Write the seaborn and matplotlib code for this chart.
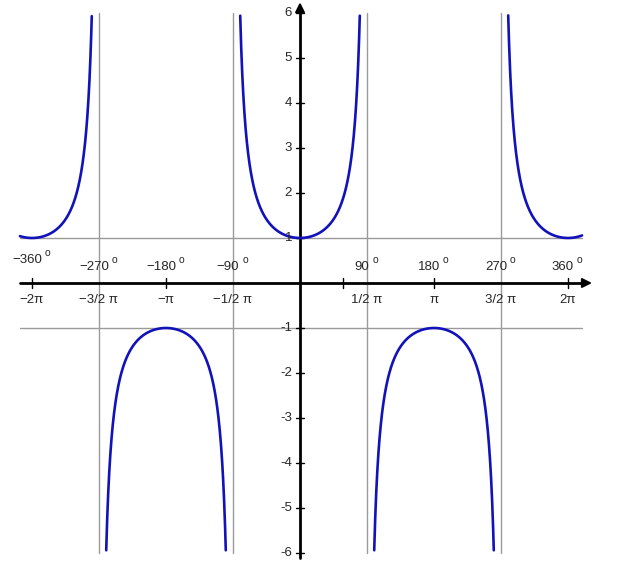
import numpy as np
import pandas as pd
import matplotlib
matplotlib.use("Agg")
import matplotlib.pyplot as plt
import seaborn as sns

# x-axis labels (radians below, degrees above)
tick_mult = [-2, -1.5, -1, -0.5, 0.5, 1, 1.5, 2]
radian_labels = ["\u22122\u03c0", "\u22123/2 \u03c0", "\u2212\u03c0", "\u22121/2 \u03c0",
                 "1/2 \u03c0", "\u03c0", "3/2 \u03c0", "2\u03c0"]
degree_labels = ["\u2212360", "\u2212270", "\u2212180", "\u221290", "90", "180", "270", "360"]
y_ticks = [-6, -5, -4, -3, -2, -1, 1, 2, 3, 4, 5, 6]
asymptotes = [-1.5, -0.5, 0.5, 1.5]   # multiples of pi
extra_tick = [1.0]                    # small tick at x = 1 rad

# curve: y = sec(x), drawn between the asymptotes and cut at |y| = 6
x_min, x_max = -2.09 * np.pi, 2.105 * np.pi
y_cap = 6
bounds = [x_min] + [a * np.pi for a in asymptotes] + [x_max]
rows = []
for i in range(len(bounds) - 1):
    xs = np.linspace(bounds[i] + 1e-4, bounds[i + 1] - 1e-4, 800)
    ys = 1 / np.cos(xs)
    keep = np.abs(ys) <= y_cap
    rows.append(pd.DataFrame({"x": xs[keep], "y": ys[keep], "seg": i}))
df = pd.concat(rows, ignore_index=True)

sns.set_theme(style="white")
plt.rcParams["font.family"] = ["Liberation Sans", "DejaVu Sans"]

W, H = 618, 566
fig = plt.figure(figsize=(W / 100, H / 100), dpi=100)
ax = fig.add_axes([0, 0, 1, 1])
px = 134 / np.pi   # pixels per unit on x
py = 45            # pixels per unit on y
ax.set_xlim(-300 / px, (W - 300) / px)
ax.set_ylim((283 - H) / py, 283 / py)
ax.axis("off")

grey = "#9a9a9a"
# helper lines
for a in asymptotes:
    ax.plot([a * np.pi, a * np.pi], [-6, 6], color=grey, lw=1, zorder=1)
for yv in [1, -1]:
    ax.plot([x_min, x_max], [yv, yv], color=grey, lw=1, zorder=1)

# axes with arrows
ax.plot([x_min, 2.13 * np.pi], [0, 0], color="black", lw=2, zorder=3)
ax.annotate("", xy=(2.2 * np.pi, 0), xytext=(2.12 * np.pi, 0),
            arrowprops=dict(arrowstyle="-|>", color="black", lw=1.5,
                            mutation_scale=14), zorder=4)
ax.plot([0, 0], [-6.1, 6.1], color="black", lw=2, zorder=3)
ax.annotate("", xy=(0, 6.3), xytext=(0, 6.0),
            arrowprops=dict(arrowstyle="-|>", color="black", lw=1.5,
                            mutation_scale=14), zorder=4)

# curve
sns.lineplot(data=df, x="x", y="y", units="seg", estimator=None,
             color="#1212bb", lw=1.9, ax=ax, zorder=5, sort=False)

# x ticks and labels
tick_h = 5 / py
for m in [-2, -1, 1, 2]:
    ax.plot([m * np.pi] * 2, [-tick_h, tick_h], color="black", lw=1, zorder=3)
for v in extra_tick:
    ax.plot([v] * 2, [-tick_h, tick_h], color="black", lw=1, zorder=3)
fs = 9.5
renderer = fig.canvas.get_renderer()
for m, rl, dl in zip(tick_mult, radian_labels, degree_labels):
    x = m * np.pi
    ax.text(x, -17 / py, rl, ha="center", va="center", fontsize=fs, zorder=6)
    dy = 23 if m == -2 else 16
    t = ax.text(x - 5 / px, dy / py, dl, ha="center", va="center", fontsize=fs, zorder=6)
    bb = t.get_window_extent(renderer)
    x_end = ax.transData.inverted().transform((bb.x1, 0))[0]
    ax.text(x_end + 3 / px, (dy + 7) / py, "o", ha="left", va="center",
            fontsize=7.5, zorder=6)

# y ticks and labels
for yv in y_ticks:
    ax.plot([-4 / px, 4 / px], [yv, yv], color="black", lw=1, zorder=3)
    ax.text(-8 / px, yv, str(yv), ha="right", va="center", fontsize=fs, zorder=6)

fig.savefig("out.png", dpi=100, facecolor="white")
